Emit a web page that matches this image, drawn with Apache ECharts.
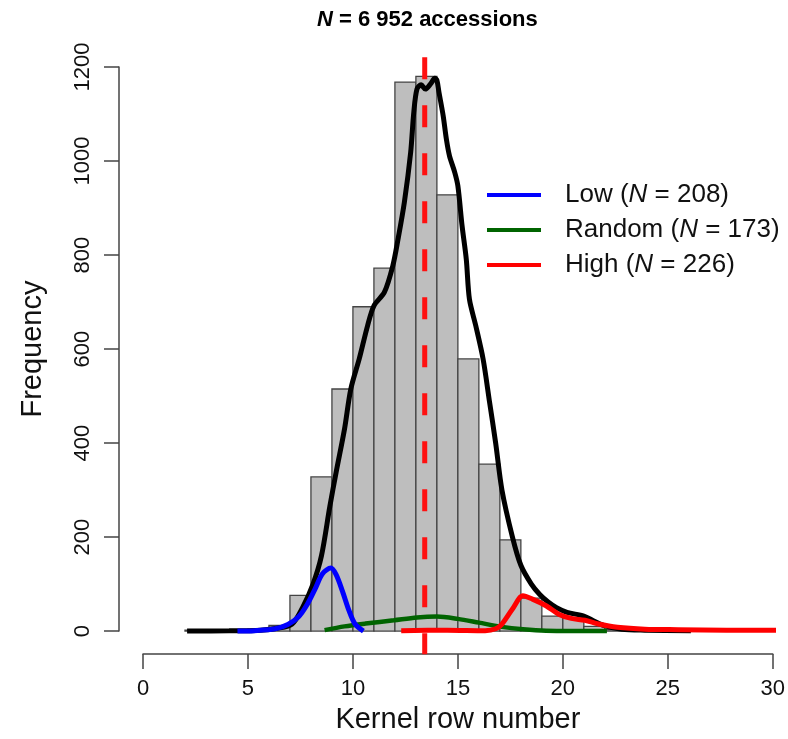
<!DOCTYPE html>
<html>
<head>
<meta charset="utf-8">
<script src="https://cdn.jsdelivr.net/npm/echarts@6/dist/echarts.min.js"></script>
<style>html,body{margin:0;padding:0;background:#fff}#c{width:788px;height:739px}</style>
</head>
<body>
<div id="c"></div>
<script>
// Histogram bins (left edges, width 1) and counts
var binStarts = [2, 3, 4, 5, 6, 7, 8, 9, 10, 11, 12, 13, 14, 15, 16, 17, 18, 19, 20, 21, 22, 23, 24];
var binCounts = [2, 1, 3, 4, 12, 76, 328, 515, 690, 772, 1168, 1180, 928, 579, 355, 194, 70, 32, 28, 10, 3, 2, 1];

// Overall density curve (scaled to counts)
var allX = [2.1, 4.1, 5.6, 6.4, 7.1, 7.6, 8.1, 8.5, 8.9, 9.2, 9.6, 9.9, 10.3, 10.7, 11.0, 11.5, 11.9, 12.15, 12.45, 12.75, 12.9, 13.05, 13.25, 13.45, 13.7, 13.9, 14.0, 14.1, 14.3, 14.45, 14.6, 14.85, 15.0, 15.2, 15.4, 15.55, 15.85, 16.2, 16.5, 16.8, 17.1, 17.6, 18.0, 18.5, 18.9, 19.3, 19.7, 20.2, 21.0, 21.5, 22.0, 22.8, 23.9, 26.1];
var allY = [0, 0.5, 2, 6, 15, 50, 100, 160, 265, 338, 430, 515, 579, 650, 692, 721, 777, 834, 912, 1018, 1104, 1153, 1162, 1153, 1164, 1176, 1172, 1146, 1096, 1047, 1011, 976, 947, 862, 791, 706, 650, 579, 490, 400, 300, 200, 140, 100, 78, 62, 50, 40, 32, 21, 11, 4, 2, 0.5];

// Low group
var lowX = [4.5, 5.3, 6.3, 6.9, 7.4, 7.8, 8.2, 8.55, 8.95, 9.2, 9.5, 9.8, 10.1, 10.5];
var lowY = [0, 1, 5, 14, 30, 55, 90, 122, 134, 120, 85, 45, 15, 0];

// Random group
var randX = [8.65, 9.6, 10.6, 11.95, 13.05, 14.0, 15.0, 16.0, 17.1, 18.1, 19.2, 22.1];
var randY = [2, 10, 16, 23, 29, 31, 26, 18, 9, 4, 1, 0];

// High group
var highX = [12.3, 14.5, 16.3, 16.8, 17.1, 17.6, 18.1, 18.55, 19.2, 19.8, 20.4, 21.05, 21.7, 22.6, 23.9, 25.5, 27.8, 30.4];
var highY = [1, 2, 1, 5, 15, 47, 75, 68, 54, 36, 27, 23, 15, 8, 4, 3, 2, 2];

// Mean line
var meanX = 13.42;
var meanSpan = [1221, -49];

var xTicks = {min: 0, max: 30, interval: 5};
var yTicks = {min: 0, max: 1200, interval: 200};

var legendNames = ['Low', 'Random', 'High'];
var legendNs = {Low: '208', Random: '173', High: '226'};

function zip(xs, ys) { return xs.map(function (x, i) { return [x, ys[i]]; }); }

var FONT = 'Liberation Sans, Arial, Helvetica, sans-serif';
var chart = echarts.init(document.getElementById('c'), null, {renderer: 'canvas'});

var histData = binStarts.map(function (s, i) { return [s, s + 1, binCounts[i]]; });

chart.setOption({
  animation: false,
  backgroundColor: '#fff',
  title: {
    text: '{i|N}{b| = 6 952 accessions}',
    left: 312, top: 4,
    textStyle: {
      rich: {
        i: {fontFamily: FONT, fontSize: 22, fontWeight: 'bold', fontStyle: 'italic', color: '#000'},
        b: {fontFamily: FONT, fontSize: 22, fontWeight: 'bold', color: '#000'}
      }
    }
  },
  legend: {
    data: legendNames,
    orient: 'vertical',
    left: 487, top: 182, padding: 0,
    itemWidth: 54, itemHeight: 4, itemGap: 9,
    icon: 'rect',
    formatter: function (n) { return '{t|' + n + ' (}{i|N}{t| = ' + legendNs[n] + ')}'; },
    textStyle: {
      padding: [0, 0, 0, 19],
      rich: {
        t: {fontFamily: FONT, fontSize: 26, color: '#111'},
        i: {fontFamily: FONT, fontSize: 26, fontStyle: 'italic', color: '#111'}
      }
    }
  },
  grid: {left: 143, right: 8, top: 67, bottom: 107, containLabel: false},
  xAxis: {
    type: 'value', min: xTicks.min, max: xTicks.max, interval: xTicks.interval,
    offset: 23,
    name: 'Kernel row number', nameLocation: 'middle', nameGap: 49,
    nameTextStyle: {fontFamily: FONT, fontSize: 29, color: '#111'},
    axisLine: {show: true, onZero: false, lineStyle: {color: '#444', width: 1.5}},
    axisTick: {show: true, length: 15, lineStyle: {color: '#444', width: 1.5}},
    axisLabel: {fontFamily: FONT, fontSize: 22, color: '#111', margin: 24},
    splitLine: {show: false}
  },
  yAxis: {
    type: 'value', min: yTicks.min, max: yTicks.max, interval: yTicks.interval,
    offset: 24,
    name: 'Frequency', nameLocation: 'middle', nameGap: 72,
    nameTextStyle: {fontFamily: FONT, fontSize: 29, color: '#111'},
    axisLine: {show: true, onZero: false, lineStyle: {color: '#444', width: 1.5}},
    axisTick: {show: true, length: 15, lineStyle: {color: '#444', width: 1.5}},
    axisLabel: {fontFamily: FONT, fontSize: 22, color: '#111', rotate: 90, margin: 25,
      formatter: function (v) { return String(v); }},
    splitLine: {show: false}
  },
  series: [
    {
      type: 'custom', name: 'hist', z: 1, clip: false,
      data: histData,
      encode: {x: [0, 1], y: 2},
      renderItem: function (params, api) {
        var p0 = api.coord([api.value(0), api.value(2)]);
        var p1 = api.coord([api.value(1), 0]);
        return {
          type: 'rect',
          shape: {x: p0[0], y: p0[1], width: p1[0] - p0[0], height: p1[1] - p0[1]},
          style: {fill: '#bebebe', stroke: '#444', lineWidth: 1.3}
        };
      }
    },
    {
      type: 'line', name: 'mean', z: 2, clip: false, symbol: 'none', silent: true,
      data: [[meanX, meanSpan[0]], [meanX, meanSpan[1]]],
      lineStyle: {color: '#ff1010', width: 5, type: [22, 26]}
    },
    {
      type: 'line', name: 'All', z: 3, clip: false, symbol: 'none', smooth: 0.3,
      data: zip(allX, allY),
      lineStyle: {color: '#000', width: 5}
    },
    {
      type: 'line', name: 'Random', z: 4, clip: false, symbol: 'none', smooth: 0.3,
      data: zip(randX, randY),
      itemStyle: {color: '#006400'},
      lineStyle: {color: '#006400', width: 4.5}
    },
    {
      type: 'line', name: 'Low', z: 5, clip: false, symbol: 'none', smooth: 0.3,
      data: zip(lowX, lowY),
      itemStyle: {color: '#0000ff'},
      lineStyle: {color: '#0000ff', width: 5}
    },
    {
      type: 'line', name: 'High', z: 6, clip: false, symbol: 'none', smooth: 0.3,
      data: zip(highX, highY),
      itemStyle: {color: '#ff0000'},
      lineStyle: {color: '#ff0000', width: 5}
    }
  ]
});
</script>
</body>
</html>
